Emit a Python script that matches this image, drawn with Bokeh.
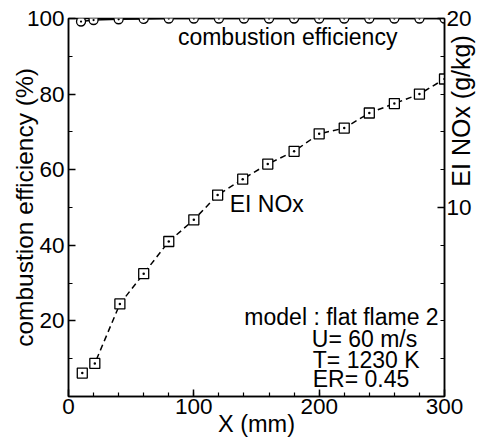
import math
from bokeh.plotting import figure
from bokeh.models import (Range1d, LinearAxis, FixedTicker, Label)
from bokeh.embed import file_html
from bokeh.resources import INLINE

# ---- data ----
x_mm = [10, 20, 40, 60, 80, 100, 120, 140, 160, 180, 200, 220, 240, 260, 280, 300]
comb_eff = [99.2, 99.6, 99.8, 99.9, 100, 100, 100, 100, 100, 100, 100, 100, 100, 100, 100, 100]
x_nox = [11, 21, 41, 60, 80, 100, 119, 139, 159, 180, 200, 220, 240, 260, 280, 300]
ei_nox = [1.24, 1.75, 4.9, 6.5, 8.2, 9.35, 10.66, 11.5, 12.3, 12.97, 13.9, 14.2, 15.0, 15.5, 16.0, 16.8]

x_ticks = [0, 100, 200, 300]
y_ticks = [20, 40, 60, 80, 100]
y2_ticks = [10, 20]

FONT = "Liberation Sans"
FS = "22.5px"
TFS = "23px"

p = figure(width=491, height=440, output_backend="svg", toolbar_location=None,
           x_range=Range1d(0, 300), y_range=Range1d(0, 100),
           min_border_left=68, min_border_right=38, min_border_top=18, min_border_bottom=44,
           x_axis_type=None, y_axis_type=None)
p.extra_y_ranges = {"nox": Range1d(0, 20)}
p.grid.visible = False
p.outline_line_color = "black"
p.outline_line_width = 1.5
p.background_fill_color = "white"
p.border_fill_color = "white"

def style(ax):
    ax.axis_line_width = 1.5
    ax.major_tick_in = 7
    ax.major_tick_out = 0
    ax.minor_tick_in = 4
    ax.minor_tick_out = 0
    ax.major_tick_line_width = 1.5
    ax.minor_tick_line_width = 1.2
    ax.major_label_text_font = FONT
    ax.major_label_text_font_size = FS
    ax.major_label_text_color = "black"
    ax.axis_label_text_font = FONT
    ax.axis_label_text_font_size = TFS
    ax.axis_label_text_font_style = "normal"
    ax.axis_label_text_color = "black"

xax = LinearAxis(ticker=FixedTicker(ticks=x_ticks, minor_ticks=list(range(20, 300, 20))),
                 axis_label="X (mm)")
style(xax)
xax.axis_label_text_font_size = "23.5px"
xax.major_label_standoff = 2
xax.axis_label_standoff = -6
p.add_layout(xax, "below")

yax = LinearAxis(ticker=FixedTicker(ticks=y_ticks, minor_ticks=[10, 30, 50, 70, 90]),
                 axis_label="combustion efficiency (%)")
style(yax)
yax.axis_label_text_font_size = "24.5px"
yax.major_label_standoff = 4
yax.axis_label_standoff = -14
p.add_layout(yax, "left")

y2ax = LinearAxis(y_range_name="nox", ticker=FixedTicker(ticks=y2_ticks, minor_ticks=[2, 4, 6, 8, 12, 14, 16, 18]),
                  axis_label="\u00a0\u00a0\u00a0EI NOx (g/kg)")
style(y2ax)
y2ax.axis_label_text_font_size = "25px"
y2ax.axis_label_text_line_height = 0.6
y2ax.major_label_standoff = 2
y2ax.axis_label_standoff = -14
y2ax.axis_label_orientation = math.pi / 2
p.add_layout(y2ax, "right")

# combustion efficiency
p.line(x_mm, comb_eff, line_color="black", line_width=1.5)
p.scatter(x_mm, comb_eff, marker="circle_dot", size=9, line_color="black",
          fill_color="white", line_width=1.3)

# EI NOx
p.line(x_nox, ei_nox, y_range_name="nox", line_color="black", line_width=1.5, line_dash="6 4")
p.scatter(x_nox, ei_nox, y_range_name="nox", marker="square_dot", size=10, line_color="black",
          fill_color="white", line_width=1.3)

def lab(x, y, t):
    p.add_layout(Label(x=x, y=y, text=t, text_font=FONT, text_font_size=TFS,
                       text_color="black", text_align="left", text_baseline="alphabetic"))

lab(87.3, 95.0, "combustion efficiency")
lab(128.6, 50.85, "EI NOx")
lab(140.3, 21.0, "model : flat flame 2")
lab(194.1, 15.15, "U= 60 m/s")
lab(194.9, 9.65, "T= 1230 K")
lab(194.9, 4.6, "ER= 0.45")

open("out.html", "w").write(file_html(p, INLINE))
